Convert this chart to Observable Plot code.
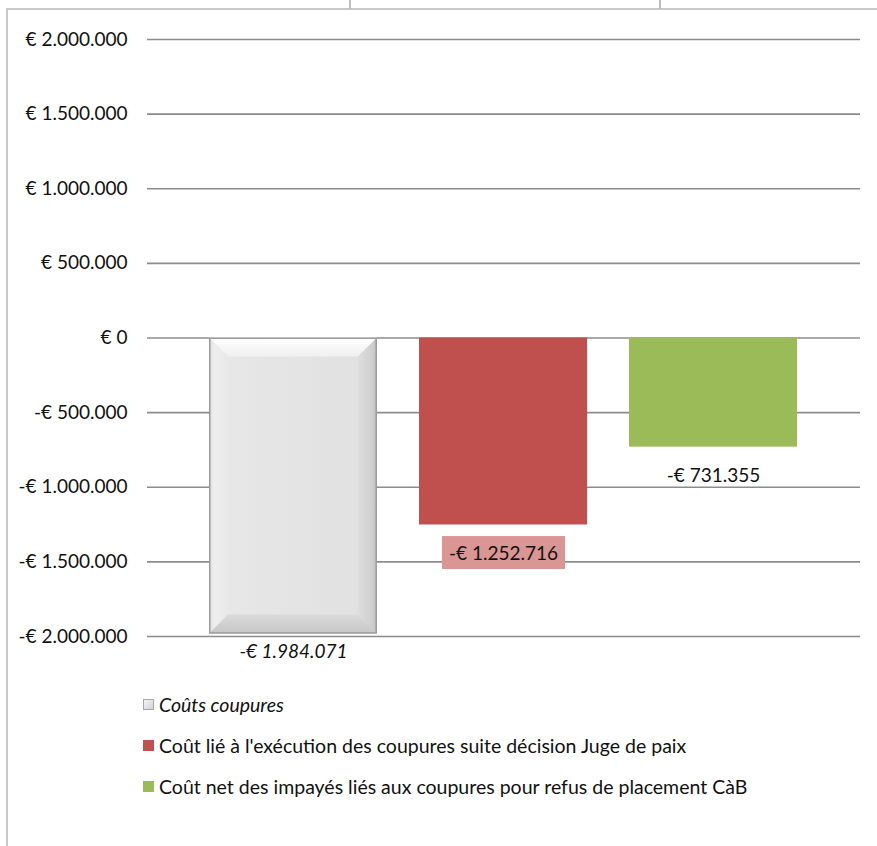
<!DOCTYPE html>
<html>
<head>
<meta charset="utf-8">
<script src="https://cdn.jsdelivr.net/npm/d3@7"></script>
<script src="https://cdn.jsdelivr.net/npm/@observablehq/plot@0.6"></script>
<style>
  html, body { margin: 0; padding: 0; background: #fff; }
  #wrap { position: relative; width: 877px; height: 846px; overflow: hidden; font-family: Lato, sans-serif; }
  #chart { position: absolute; left: 0; top: 0; }
  .frameTop { position: absolute; left: 7px; top: 8px; width: 870px; height: 2px; background: #c8c8c8; }
  .frameLeft { position: absolute; left: 6px; top: 8px; width: 2px; height: 840px; background: #c8c8c8; }
  .tick { position: absolute; top: 0; width: 2px; height: 9px; background: #bdbdbd; }
  #legend { position: absolute; left: 143px; top: 684px; font-size: 19.5px; color: #111; }
  .item { height: 41px; display: flex; align-items: center; white-space: nowrap; }
  .sw { width: 11px; height: 11px; margin-right: 5px; display: inline-block; }
</style>
</head>
<body>
<div id="wrap">
  <div id="chart"></div>
  <div class="frameTop"></div>
  <div class="frameLeft"></div>
  <div class="tick" style="left:349px"></div>
  <div class="tick" style="left:659px"></div>
  <div id="legend"></div>
</div>
<script>
const series = [
  "Coûts coupures",
  "Coût lié à l'exécution des coupures suite décision Juge de paix",
  "Coût net des impayés liés aux coupures pour refus de placement CàB"
];
const values = [-1984071, -1252716, -731355];
const labels = ["-€ 1.984.071", "-€ 1.252.716", "-€ 731.355"];
const colors = ["#e3e3e3", "#C0504D", "#9BBB59"];
const yTicks = [-2000000, -1500000, -1000000, -500000, 0, 500000, 1000000, 1500000, 2000000];

const data = series.map((s, i) => ({series: s, value: values[i], label: labels[i], idx: i}));

const fmt = v => (v < 0 ? "-" : "") + "€ " + d3.format(",")(Math.abs(v)).replace(/,/g, ".");

const NS = "http://www.w3.org/2000/svg";
const defs = () => {
  const g = document.createElementNS(NS, "defs");
  g.innerHTML = `
    <linearGradient id="bvTop" x1="0" y1="0" x2="0" y2="1">
      <stop offset="0" stop-color="#ffffff"/>
      <stop offset="1" stop-color="#f0f0f0"/>
    </linearGradient>
    <linearGradient id="bvLeft" x1="0" y1="0" x2="1" y2="0">
      <stop offset="0" stop-color="#dcdcdc"/>
      <stop offset="0.25" stop-color="#eeeeee"/>
      <stop offset="1" stop-color="#e8e8e8"/>
    </linearGradient>
    <linearGradient id="bvRight" x1="0" y1="0" x2="1" y2="0">
      <stop offset="0" stop-color="#dedede"/>
      <stop offset="0.8" stop-color="#cdcdcd"/>
      <stop offset="1" stop-color="#b8b8b8"/>
    </linearGradient>
    <linearGradient id="bvBottom" x1="0" y1="0" x2="0" y2="1">
      <stop offset="0" stop-color="#dadada"/>
      <stop offset="1" stop-color="#c6c6c6"/>
    </linearGradient>
    <linearGradient id="bvFace" x1="0" y1="0" x2="1" y2="0">
      <stop offset="0" stop-color="#e8e8e8"/>
      <stop offset="1" stop-color="#e0e0e0"/>
    </linearGradient>`;
  return g;
};

const first = data.filter(d => d.idx === 0);
const others = data.filter(d => d.idx !== 0);

const chart = Plot.plot({
  width: 877,
  height: 846,
  marginLeft: 147,
  marginRight: 17,
  marginTop: 39,
  marginBottom: 210,
  style: {fontFamily: "Lato, sans-serif", fontSize: "19px", color: "#111", background: "transparent"},
  x: {domain: series, range: [188, 818], paddingInner: 0.2, paddingOuter: 0.1, axis: null},
  y: {domain: [-2000000, 2000000], ticks: yTicks, tickFormat: fmt, tickSize: 0, tickPadding: 20, label: null},
  marks: [
    defs,
    Plot.ruleY(yTicks, {stroke: "#8c8c8c", strokeWidth: 1.6}),
    Plot.barY(others, {x: "series", y: "value", fill: d => colors[d.idx]}),
    Plot.barY(first, {x: "series", y: "value", fill: "url(#bvFace)", className: "bevelbar"}),
    Plot.text(first, {x: "series", y: "value", text: "label", dy: 18, fontStyle: "italic", fill: "#111"}),
    Plot.text(others, {x: "series", y: "value", text: "label", dy: 29, fill: "#111", className: "barlabel"})
  ]
});

document.getElementById("chart").appendChild(chart);

// bevel effect on the first bar, derived from the bar drawn by Plot
const br = chart.querySelector(".bevelbar rect");
if (br) {
  const x = +br.getAttribute("x"), y = +br.getAttribute("y");
  const w = +br.getAttribute("width"), h = +br.getAttribute("height");
  const b = 19;
  const g = document.createElementNS(NS, "g");
  const tr = br.getAttribute("transform");
  if (tr) g.setAttribute("transform", tr);
  const poly = (pts, fill) => {
    const p = document.createElementNS(NS, "polygon");
    p.setAttribute("points", pts.map(q => q.join(",")).join(" "));
    p.setAttribute("fill", fill);
    g.appendChild(p);
  };
  poly([[x, y], [x + w, y], [x + w - b, y + b], [x + b, y + b]], "url(#bvTop)");
  poly([[x, y], [x + b, y + b], [x + b, y + h - b], [x, y + h]], "url(#bvLeft)");
  poly([[x + w, y], [x + w, y + h], [x + w - b, y + h - b], [x + w - b, y + b]], "url(#bvRight)");
  poly([[x, y + h], [x + b, y + h - b], [x + w - b, y + h - b], [x + w, y + h]], "url(#bvBottom)");
  const o = document.createElementNS(NS, "rect");
  o.setAttribute("x", x + 0.75); o.setAttribute("y", y + 0.75);
  o.setAttribute("width", w - 1.5); o.setAttribute("height", h - 1.5);
  o.setAttribute("fill", "none"); o.setAttribute("stroke", "#9c9c9c"); o.setAttribute("stroke-width", 1.5);
  g.appendChild(o);
  br.parentNode.appendChild(g);
}

// pink background behind the red bar's data label
const lbls = chart.querySelectorAll(".barlabel text");
if (lbls.length) {
  const t = lbls[0];
  const bb = t.getBBox();
  const r = document.createElementNS(NS, "rect");
  r.setAttribute("x", bb.x - 7);
  r.setAttribute("y", bb.y - 5);
  r.setAttribute("width", bb.width + 14);
  r.setAttribute("height", bb.height + 10);
  r.setAttribute("fill", "#D99694");
  const tr = t.getAttribute("transform");
  if (tr) r.setAttribute("transform", tr);
  t.parentNode.insertBefore(r, t);
}

// legend
const leg = document.getElementById("legend");
series.forEach((s, i) => {
  const it = document.createElement("div");
  it.className = "item";
  const sw = document.createElement("span");
  sw.className = "sw";
  if (i === 0) {
    sw.style.background = "linear-gradient(135deg, #f8f8f8, #cfcfcf)";
    sw.style.boxShadow = "inset 0 0 0 1px #a8a8a8";
  } else {
    sw.style.background = colors[i];
  }
  const tx = document.createElement("span");
  tx.textContent = s;
  if (i === 0) tx.style.fontStyle = "italic";
  it.appendChild(sw);
  it.appendChild(tx);
  leg.appendChild(it);
});
</script>
</body>
</html>
